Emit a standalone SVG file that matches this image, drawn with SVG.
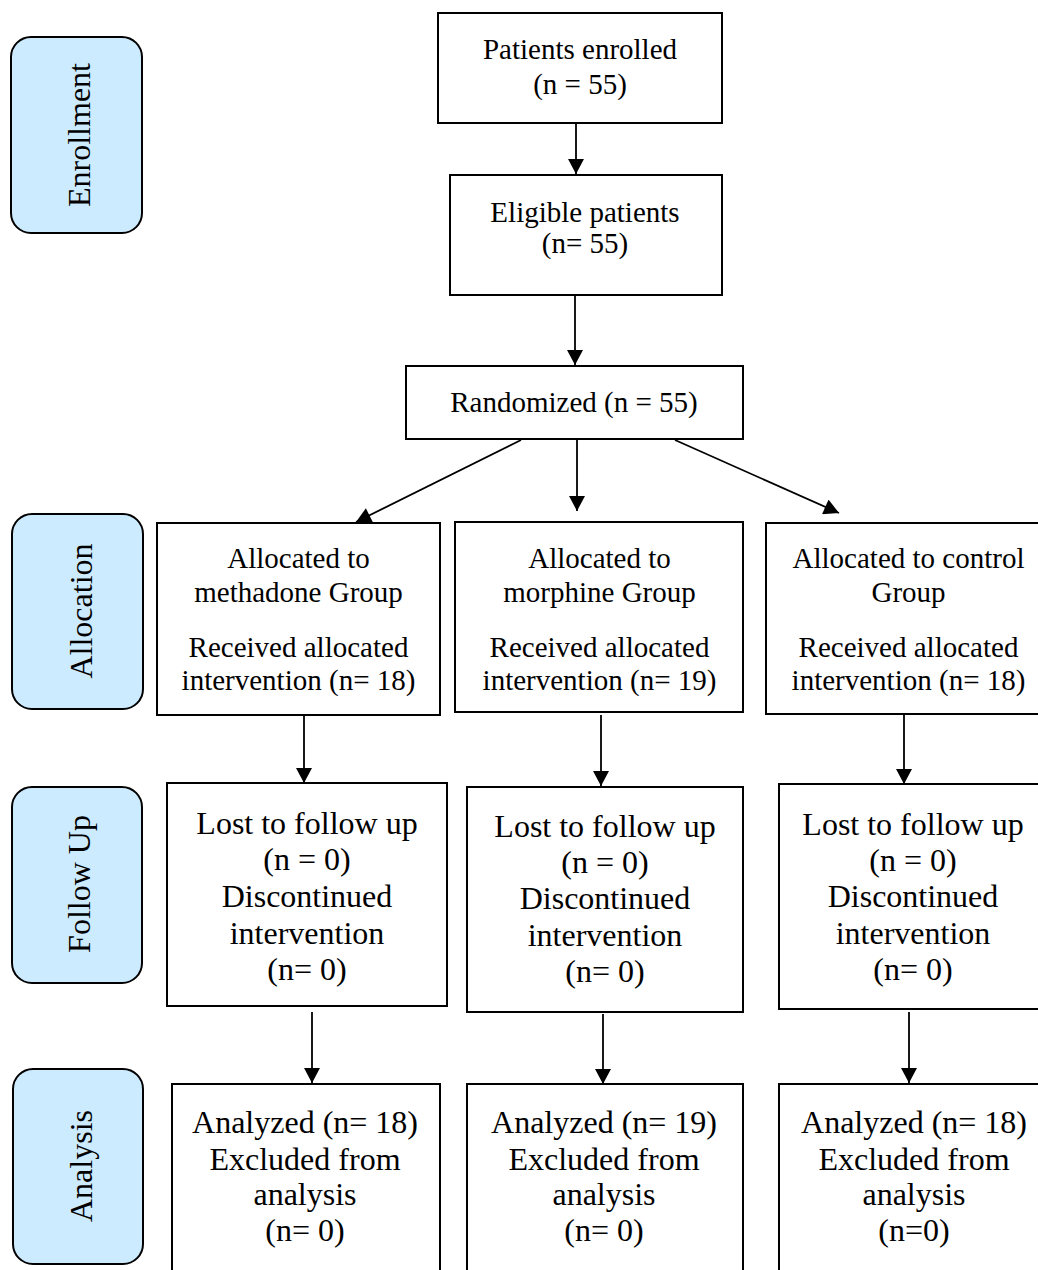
<svg xmlns="http://www.w3.org/2000/svg" width="1038" height="1270" viewBox="0 0 1038 1270">
  <style>
    .box { fill: #ffffff; stroke: #000000; stroke-width: 2; }
    .stage { fill: #cdebff; stroke: #000000; stroke-width: 2; }
    .t29 { font-family: "Liberation Serif", "Times New Roman", serif; font-size: 29px; fill: #000000; text-anchor: middle; }
    .t32 { font-family: "Liberation Serif", "Times New Roman", serif; font-size: 32px; fill: #000000; text-anchor: middle; }
    .conn { stroke: #000000; stroke-width: 1.8; fill: none; marker-end: url(#arrow); }
  </style>
  <defs>
    <marker id="arrow" markerUnits="userSpaceOnUse" markerWidth="16" markerHeight="16" viewBox="0 0 15 16" refX="15" refY="8" orient="auto">
      <path d="M0,0 L15,8 L0,16 Z" fill="#000000"/>
    </marker>
  </defs>

  <rect width="1038" height="1270" fill="#ffffff"/>

  <!-- Stage labels -->
  <g id="stage-enrollment">
    <rect class="stage" x="11" y="37" width="131" height="196" rx="20" ry="20"/>
    <text class="t32" x="90" y="135" transform="rotate(-90 90 135)">Enrollment</text>
  </g>
  <g id="stage-allocation">
    <rect class="stage" x="12" y="514" width="131" height="195" rx="20" ry="20"/>
    <text class="t32" x="92" y="611" transform="rotate(-90 92 611)">Allocation</text>
  </g>
  <g id="stage-followup">
    <rect class="stage" x="12" y="787" width="130" height="196" rx="20" ry="20"/>
    <text class="t32" x="90" y="884" transform="rotate(-90 90 884)">Follow Up</text>
  </g>
  <g id="stage-analysis">
    <rect class="stage" x="13" y="1069" width="130" height="195" rx="20" ry="20"/>
    <text class="t32" x="92" y="1166" transform="rotate(-90 92 1166)">Analysis</text>
  </g>

  <!-- Enrollment flow -->
  <g id="enrolled">
    <rect class="box" x="438" y="13" width="284" height="110"/>
    <text class="t29" x="580" y="59">Patients enrolled</text>
    <text class="t29" x="580" y="94">(n = 55)</text>
  </g>
  <g id="eligible">
    <rect class="box" x="450" y="175" width="272" height="120"/>
    <text class="t29" x="585" y="222">Eligible patients</text>
    <text class="t29" x="585" y="253">(n= 55)</text>
  </g>
  <g id="randomized">
    <rect class="box" x="406" y="366" width="337" height="73"/>
    <text class="t29" x="574" y="412">Randomized (n = 55)</text>
  </g>

  <!-- Allocation -->
  <g id="alloc-methadone">
    <rect class="box" x="157" y="523" width="283" height="192"/>
    <text class="t29" x="298.5" y="568">Allocated to</text>
    <text class="t29" x="298.5" y="602">methadone Group</text>
    <text class="t29" x="298.5" y="657">Received allocated</text>
    <text class="t29" x="298.5" y="690">intervention (n= 18)</text>
  </g>
  <g id="alloc-morphine">
    <rect class="box" x="455" y="522" width="288" height="190"/>
    <text class="t29" x="599.5" y="568">Allocated to</text>
    <text class="t29" x="599.5" y="602">morphine Group</text>
    <text class="t29" x="599.5" y="657">Received allocated</text>
    <text class="t29" x="599.5" y="690">intervention (n= 19)</text>
  </g>
  <g id="alloc-control">
    <rect class="box" x="766" y="523" width="280" height="191"/>
    <text class="t29" x="908.5" y="568">Allocated to control</text>
    <text class="t29" x="908.5" y="602">Group</text>
    <text class="t29" x="908.5" y="657">Received allocated</text>
    <text class="t29" x="908.5" y="690">intervention (n= 18)</text>
  </g>

  <!-- Follow up -->
  <g id="followup-methadone">
    <rect class="box" x="167" y="783" width="280" height="223"/>
    <text class="t32" x="307" y="834">Lost to follow up</text>
    <text class="t32" x="307" y="870">(n = 0)</text>
    <text class="t32" x="307" y="907">Discontinued</text>
    <text class="t32" x="307" y="944">intervention</text>
    <text class="t32" x="307" y="980">(n= 0)</text>
  </g>
  <g id="followup-morphine">
    <rect class="box" x="467" y="787" width="276" height="225"/>
    <text class="t32" x="605" y="837">Lost to follow up</text>
    <text class="t32" x="605" y="873">(n = 0)</text>
    <text class="t32" x="605" y="909">Discontinued</text>
    <text class="t32" x="605" y="946">intervention</text>
    <text class="t32" x="605" y="982">(n= 0)</text>
  </g>
  <g id="followup-control">
    <rect class="box" x="779" y="784" width="270" height="225"/>
    <text class="t32" x="913" y="835">Lost to follow up</text>
    <text class="t32" x="913" y="871">(n = 0)</text>
    <text class="t32" x="913" y="907">Discontinued</text>
    <text class="t32" x="913" y="944">intervention</text>
    <text class="t32" x="913" y="980">(n= 0)</text>
  </g>

  <!-- Analysis -->
  <g id="analysis-methadone">
    <rect class="box" x="172" y="1084" width="268" height="200"/>
    <text class="t32" x="305" y="1133">Analyzed (n= 18)</text>
    <text class="t32" x="305" y="1170">Excluded from</text>
    <text class="t32" x="305" y="1205">analysis</text>
    <text class="t32" x="305" y="1241">(n= 0)</text>
  </g>
  <g id="analysis-morphine">
    <rect class="box" x="467" y="1084" width="276" height="200"/>
    <text class="t32" x="604" y="1133">Analyzed (n= 19)</text>
    <text class="t32" x="604" y="1170">Excluded from</text>
    <text class="t32" x="604" y="1205">analysis</text>
    <text class="t32" x="604" y="1241">(n= 0)</text>
  </g>
  <g id="analysis-control">
    <rect class="box" x="779" y="1084" width="270" height="200"/>
    <text class="t32" x="914" y="1133">Analyzed (n= 18)</text>
    <text class="t32" x="914" y="1170">Excluded from</text>
    <text class="t32" x="914" y="1205">analysis</text>
    <text class="t32" x="914" y="1241">(n=0)</text>
  </g>

  <!-- Connectors -->
  <g id="connectors">
    <line class="conn" x1="576" y1="123" x2="576" y2="174"/>
    <line class="conn" x1="575" y1="295" x2="575" y2="365"/>
    <line class="conn" x1="521" y1="440" x2="356" y2="522"/>
    <line class="conn" x1="577" y1="440" x2="577" y2="511"/>
    <line class="conn" x1="675" y1="440" x2="839" y2="513"/>
    <line class="conn" x1="304" y1="715" x2="304" y2="783"/>
    <line class="conn" x1="601" y1="715" x2="601" y2="786"/>
    <line class="conn" x1="904" y1="715" x2="904" y2="784"/>
    <line class="conn" x1="312" y1="1012" x2="312" y2="1083"/>
    <line class="conn" x1="603" y1="1014" x2="603" y2="1084"/>
    <line class="conn" x1="909" y1="1012" x2="909" y2="1083"/>
  </g>
</svg>
